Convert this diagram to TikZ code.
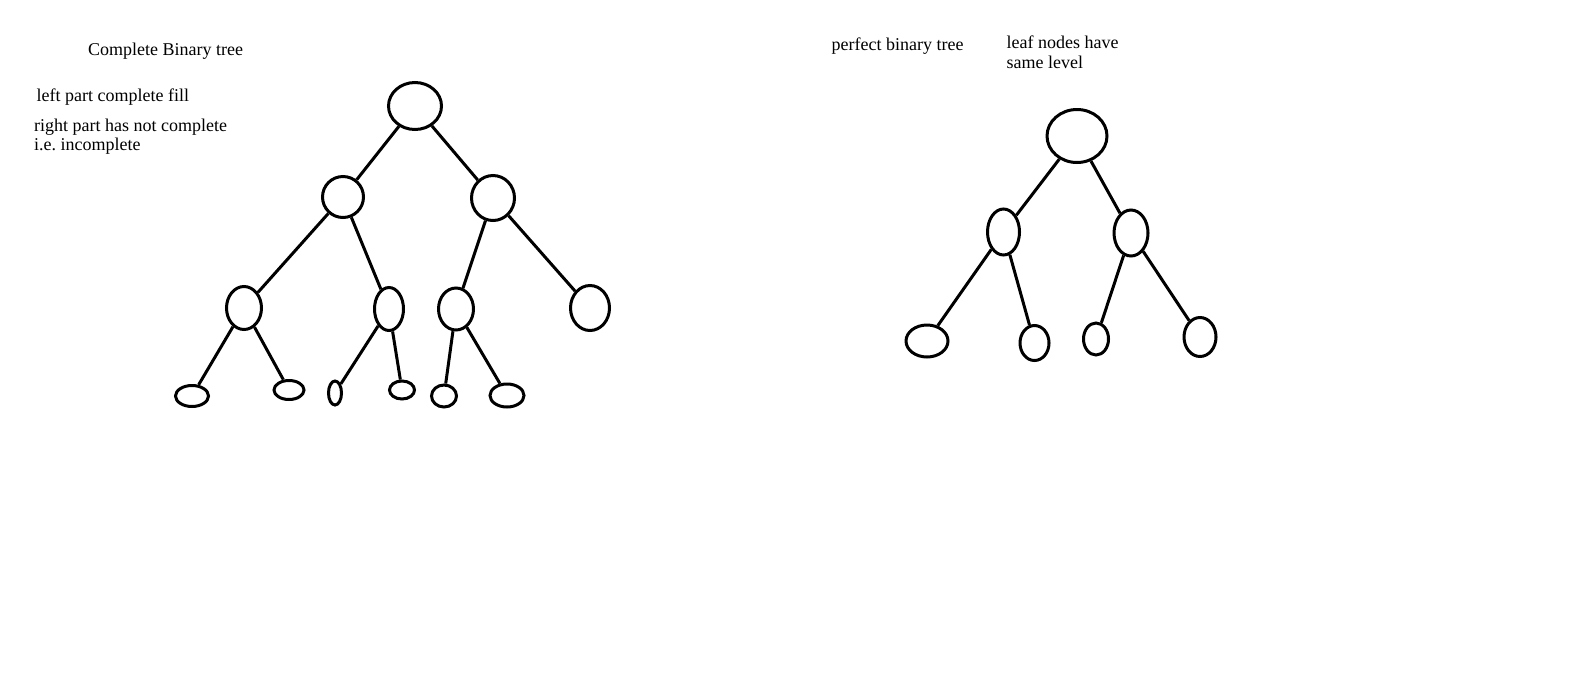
\documentclass[tikz,border=0pt]{standalone}
\usepackage{fontspec}
\setmainfont{Liberation Serif}
\usetikzlibrary{shapes.geometric}
\frenchspacing
\begin{document}
\begin{tikzpicture}[x=1pt,y=-1pt,
  lbl/.style={anchor=base west,inner sep=0pt,font=\fontsize{18}{21}\selectfont},
  edge/.style={line width=3pt}]
\useasboundingbox (0,0) rectangle (1594,689);
\fill[white] (0,0) rectangle (1594,689);
\newcommand{\E}[5]{\node[draw,ellipse,line width=3pt,inner sep=0pt,minimum width=#4*2pt-3pt,minimum height=#5*2pt-3pt] (#1) at (#2,#3) {};}
% left tree
\E{r}{415}{106}{28}{25}
\E{a}{343}{197}{22}{22}
\E{b}{493}{198}{23}{24}
\E{c}{244}{308}{19}{23}
\E{d}{389}{309}{16}{23}
\E{e}{456}{309}{19}{22.5}
\E{f}{590}{308}{21}{24}
\E{g}{192}{396}{18}{12}
\E{h}{289}{390}{16.5}{11}
\E{i}{335}{393}{8}{13.5}
\E{j}{402}{390}{14}{10.5}
\E{k}{444}{396}{14}{12.5}
\E{l}{507}{395.5}{18.5}{13}
\draw[edge] (r) -- (a); \draw[edge] (r) -- (b);
\draw[edge] (a) -- (c); \draw[edge] (a) -- (d);
\draw[edge] (b) -- (e); \draw[edge] (b) -- (f);
\draw[edge] (c) -- (g); \draw[edge] (c) -- (h);
\draw[edge] (d) -- (i); \draw[edge] (d) -- (j);
\draw[edge] (e) -- (k); \draw[edge] (e) -- (l);
% right tree
\E{R}{1077}{136}{31.5}{28}
\E{A}{1003.5}{232}{17.5}{24.5}
\E{B}{1131}{233}{18.5}{24.5}
\E{C}{927}{341}{22.5}{17.5}
\E{D}{1034.5}{343}{16}{19}
\E{F}{1096}{339}{14}{17.5}
\E{G}{1200}{337}{17.5}{21}
\draw[edge] (R) -- (A); \draw[edge] (R) -- (B);
\draw[edge] (A) -- (C); \draw[edge] (A) -- (D);
\draw[edge] (B) -- (F); \draw[edge] (B) -- (G);
% texts
\node[lbl] (t1) at (88,55) {Complete Binary tree};
\node[lbl] (t2) at (36.5,101.5) {left part complete fill};
\node[lbl] (t3) at (34,131.5) {right part has not complete};
\node[lbl] (t4) at (34,150) {i.e.\ incomplete};
\node[lbl] (t5) at (831.5,50) {perfect binary tree};
\node[lbl] (t6) at (1006.5,48.5) {leaf nodes have};
\node[lbl] (t7) at (1006.5,68.5) {same level};
\end{tikzpicture}
\end{document}
